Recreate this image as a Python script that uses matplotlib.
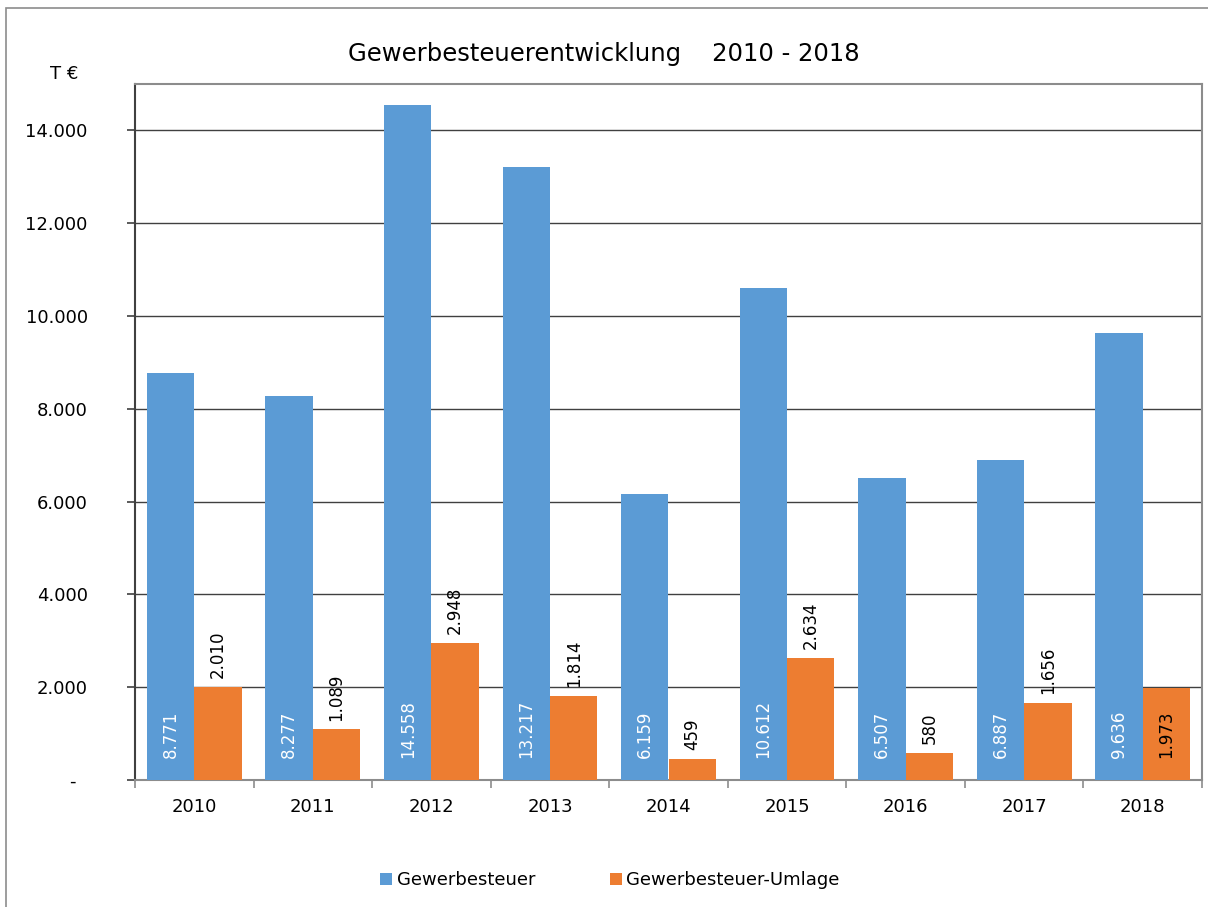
import numpy as np
import matplotlib.pyplot as plt
from matplotlib.patches import Rectangle

years = ["2010", "2011", "2012", "2013", "2014", "2015", "2016", "2017", "2018"]
gewerbesteuer = [8771, 8277, 14558, 13217, 6159, 10612, 6507, 6887, 9636]
umlage = [2010, 1089, 2948, 1814, 459, 2634, 580, 1656, 1973]
yticks = [0, 2000, 4000, 6000, 8000, 10000, 12000, 14000]


def de_fmt(v):
    return "-  " if v == 0 else f"{v:,.0f}".replace(",", ".")


blue = "#5b9bd5"
orange = "#ed7d31"

plt.rcParams["font.family"] = ["DejaVu Sans"]
fig = plt.figure(figsize=(12.08, 9.07), dpi=100)
ax = fig.add_axes([135 / 1208, 1 - 780 / 907, (1202 - 135) / 1208, (780 - 84) / 907])

# outer frame of the chart
fig.patches.append(Rectangle((6 / 1208, -0.01), 1.2, 1 - 8 / 907 + 0.01,
                             transform=fig.transFigure, fill=False,
                             edgecolor="#8c8c8c", linewidth=1.2))

x = np.arange(len(years))
w = 0.4
b1 = ax.bar(x - w / 2, gewerbesteuer, w, color=blue, label="Gewerbesteuer", zorder=3)
b2 = ax.bar(x + w / 2, umlage, w, color=orange, label="Gewerbesteuer-Umlage", zorder=3)

lab_fs = 12
for xi, v in zip(x, gewerbesteuer):
    ax.text(xi - w / 2, 480, de_fmt(v), rotation=90, ha="center", va="bottom",
            color="white", fontsize=lab_fs, zorder=4)
for xi, v in zip(x, umlage):
    if 1900 < v < 2000:
        # label does not fit above: placed inside the bar
        ax.text(xi + w / 2, 480, de_fmt(v), rotation=90, ha="center", va="bottom",
                color="black", fontsize=lab_fs, zorder=4)
    else:
        ax.text(xi + w / 2, v + 190, de_fmt(v), rotation=90, ha="center", va="bottom",
                color="black", fontsize=lab_fs, zorder=4)

ax.set_xlim(-0.5, len(years) - 0.5)
ax.set_ylim(0, 15000)
ax.set_yticks(yticks)
ax.set_yticklabels([de_fmt(t) for t in yticks], fontsize=13)
ax.set_xticks(x)
ax.set_xticklabels(years, fontsize=13)
ax.set_xticks(np.arange(len(years) + 1) - 0.5, minor=True)
ax.tick_params(axis="x", which="major", length=0, pad=13)
ax.tick_params(axis="x", which="minor", length=6, color="#8c8c8c", width=1.2)
ax.tick_params(axis="y", length=6, width=1.2, pad=28, color="#404040")

ax.grid(axis="y", color="#404040", linewidth=1, zorder=0)
ax.set_axisbelow(True)
for s in ["top", "right", "bottom"]:
    ax.spines[s].set_color("#8c8c8c")
    ax.spines[s].set_linewidth(1.5)
ax.spines["left"].set_color("#404040")
ax.spines["left"].set_linewidth(1.5)

fig.text(604 / 1208, 1 - 54 / 907, "Gewerbesteuerentwicklung    2010 - 2018",
         ha="center", va="center", fontsize=17.5)
fig.text(64 / 1208, 1 - 74 / 907, "T €", ha="center", va="center", fontsize=13)

fig.legend(handles=[b1, b2], loc="center", bbox_to_anchor=(610 / 1208, 1 - 880 / 907),
           ncol=2, frameon=False, fontsize=13, handlelength=0.65, handleheight=0.65,
           handletextpad=0.25, columnspacing=4.15)

fig.savefig("out.png", dpi=100)
